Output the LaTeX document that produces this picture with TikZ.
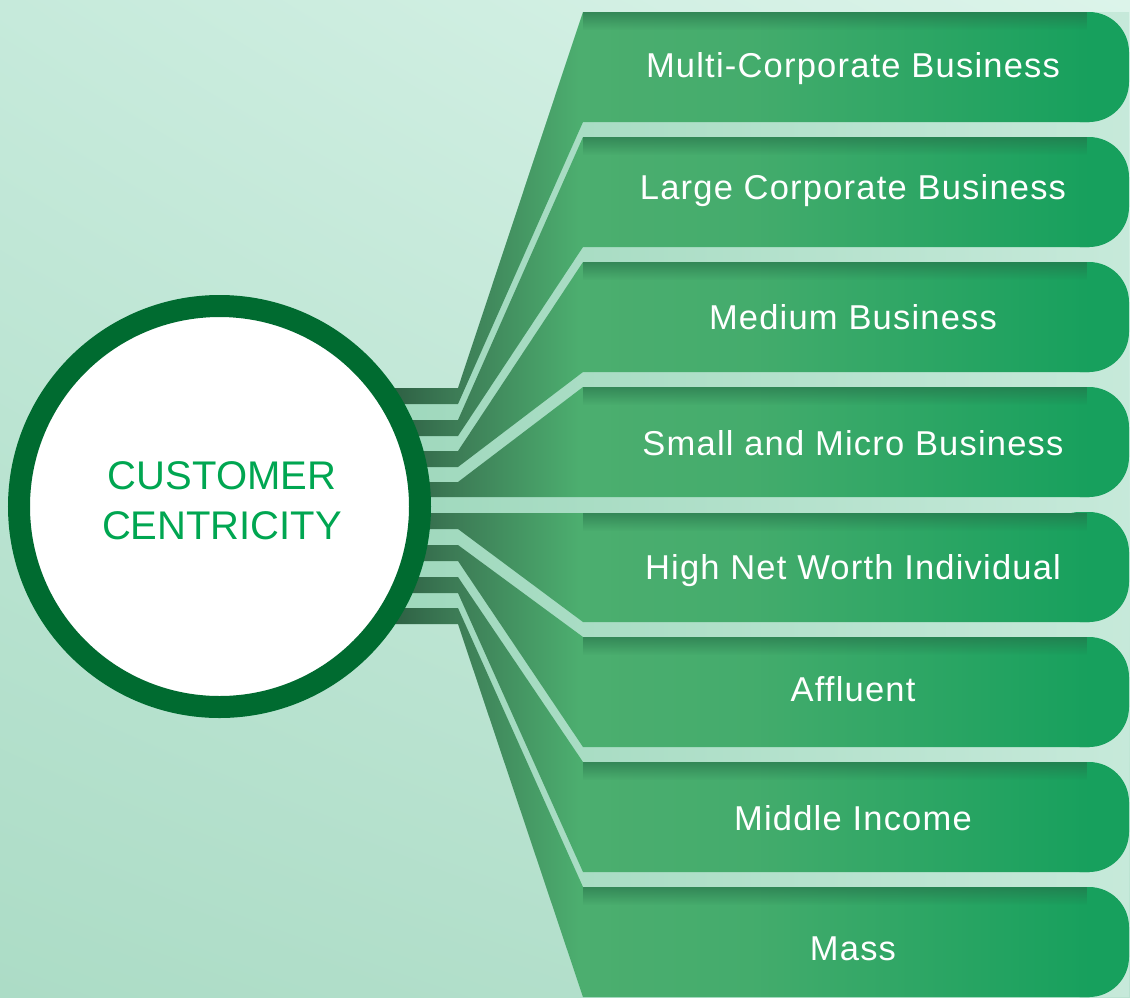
\documentclass[tikz,border=0pt]{standalone}
\usepackage{fontspec}
\setmainfont{Liberation Sans}
\usepackage{tikz}
\usetikzlibrary{shadings,fadings}

\definecolor{bgul}{HTML}{C6EADB}
\definecolor{bgur}{HTML}{DCF4EA}
\definecolor{bgll}{HTML}{ACDCC6}
\definecolor{bglr}{HTML}{B8E2CF}
\definecolor{gapgreen}{HTML}{9ED8BC}
\definecolor{legdark}{HTML}{2B5B40}
\definecolor{legmid}{HTML}{3C7A55}
\definecolor{barlight}{HTML}{4CAE6F}
\definecolor{barright}{HTML}{17A05D}
\definecolor{barshadow}{HTML}{256E48}
\definecolor{ringgreen}{HTML}{006B30}
\definecolor{titlegreen}{HTML}{00A651}

\pgfdeclarehorizontalshading{barshade}{100bp}{color(0bp)=(legdark); color(25bp)=(legdark); color(30bp)=(legmid); color(39bp)=(barlight); color(51bp)=(barlight!85!barright); color(75bp)=(barright); color(100bp)=(barright)}

\begin{document}
\begin{tikzpicture}[x=1pt,y=-1pt,
  bar/.style={shading=barshade},
  barend/.style={fill=barright,rounded corners=40pt},
  bartop/.style={fill=barshadow,path fading=south,opacity=0.6},
  bartext/.style={text=white,anchor=base,font=\fontsize{34.5}{40}\selectfont\addfontfeature{LetterSpace=3.5}}]
\useasboundingbox (0,0) rectangle (1130,997);
\shade[upper left=bgul,upper right=bgur,lower left=bgll,lower right=bglr] (0,0) rectangle (1130,997);
\shade[left color=gapgreen,right color=bglr!60!bgur] (583,12) -- (1129,12) -- (1129,997) -- (583,997) -- (458,624) -- (380,624) -- (380,388) -- (458,388) -- cycle;

\fill[barend] (1040,12) rectangle (1129,122);
\fill[barend] (1040,137) rectangle (1129,247);
\fill[barend] (1040,262) rectangle (1129,372);
\fill[barend] (1040,387) rectangle (1129,497);
\fill[barend] (1040,512) rectangle (1129,622);
\fill[barend] (1040,637) rectangle (1129,747);
\fill[barend] (1040,762) rectangle (1129,872);
\fill[barend] (1040,887) rectangle (1129,997);

\shade[bar] (583,12) -- (1090,12) -- (1090,122) -- (583,122) -- (458,404) -- (380,404) -- (380,388) -- (458,388) -- cycle;
\shade[bar] (583,137) -- (1090,137) -- (1090,247) -- (583,247) -- (458,436) -- (380,436) -- (380,420) -- (458,420) -- cycle;
\shade[bar] (583,262) -- (1090,262) -- (1090,372) -- (583,372) -- (458,467) -- (380,467) -- (380,451) -- (458,451) -- cycle;
\shade[bar] (583,387) -- (1090,387) -- (1090,497) -- (380,497) -- (380,482) -- (458,482) -- cycle;
\shade[bar] (380,513) -- (1090,513) -- (1090,622) -- (583,622) -- (458,529) -- (380,529) -- cycle;
\shade[bar] (583,637) -- (1090,637) -- (1090,747) -- (583,747) -- (458,561) -- (380,561) -- (380,545) -- (458,545) -- cycle;
\shade[bar] (583,762) -- (1090,762) -- (1090,872) -- (583,872) -- (458,593) -- (380,593) -- (380,577) -- (458,577) -- cycle;
\shade[bar] (583,887) -- (1090,887) -- (1090,997) -- (583,997) -- (458,624) -- (380,624) -- (380,608) -- (458,608) -- cycle;

\fill[bartop] (583,12) rectangle (1088,30);
\fill[bartop] (583,137) rectangle (1088,155);
\fill[bartop] (583,262) rectangle (1088,280);
\fill[bartop] (583,387) rectangle (1088,405);
\fill[bartop] (583,513) rectangle (1088,531);
\fill[bartop] (583,637) rectangle (1088,655);
\fill[bartop] (583,762) rectangle (1088,780);
\fill[bartop] (583,887) rectangle (1088,905);

\node[bartext] (mcb) at (853,77) {Multi-Corporate Business};
\node[bartext] (lcb) at (853,199) {Large Corporate Business};
\node[bartext] (mb) at (853,329) {Medium Business};
\node[bartext] (smb) at (853,455) {Small and Micro Business};
\node[bartext] (hnwi) at (853,579) {High Net Worth Individual};
\node[bartext] (aff) at (853,701) {Affluent};
\node[bartext] (mid) at (853,830) {Middle Income};
\node[bartext] (mass) at (853,960) {Mass};

\node[circle,draw=ringgreen,line width=22pt,fill=white,minimum size=401pt,inner sep=0pt] (hub) at (219.5,506.5) {};
\node[text=titlegreen,align=center,font=\fontsize{40}{50}\selectfont] (title) at (222,501) {CUSTOMER\\CENTRICITY};
\end{tikzpicture}
\end{document}
